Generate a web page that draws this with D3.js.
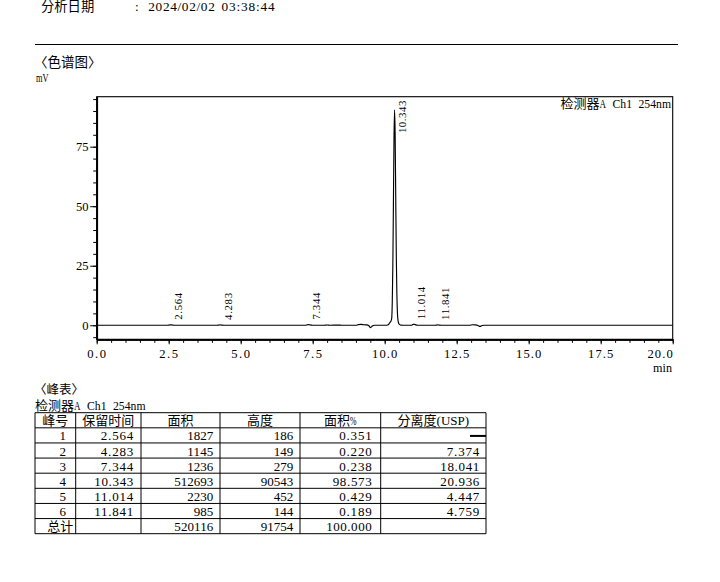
<!DOCTYPE html>
<html><head><meta charset="utf-8">
<script src="https://cdn.jsdelivr.net/npm/d3@7/dist/d3.min.js"></script>
<style>
html,body{margin:0;padding:0;background:#fff;overflow:hidden}
svg text{font-family:"Liberation Serif","Noto Sans CJK SC",serif;fill:#000}
</style>
</head><body>
<svg id="c" width="720" height="582"></svg>
<script>
// ---------------- data ----------------
const analysisDateLabel = "分析日期";
const analysisDate = ": 2024/02/02 03:38:44";
const chromTitle = "〈色谱图〉";
const yUnit = "mV";
const xUnit = "min";
const detectorLabel = "检测器A Ch1 254nm";
const tableTitle = "〈峰表〉";
const xTicks = [0, 2.5, 5, 7.5, 10, 12.5, 15, 17.5, 20];
const xTickLabels = ["0.0","2.5","5.0","7.5","10.0","12.5","15.0","17.5","20.0"];
const yTicks = [0, 25, 50, 75];
const yTickLabels = ["0","25","50","75"];

// chromatogram trace (min, mV)
const traceTime = [0.00,2.45,2.52,2.564,2.62,2.70,4.17,4.24,4.283,4.34,4.42,7.22,7.30,7.344,7.40,7.50,
  7.90,8.00,8.10,8.40,8.50,9.00,9.08,9.18,9.28,9.38,9.45,9.51,9.57,9.65,
  10.05,10.10,10.15,10.19,10.22,10.243,10.263,10.283,10.303,10.323,10.343,10.363,10.383,10.403,10.423,10.443,10.463,10.483,10.51,10.56,10.65,
  10.92,10.97,11.014,11.06,11.14,11.75,11.80,11.841,11.89,11.96,12.95,13.05,13.15,13.24,13.31,13.38,13.45,20.00];
const traceMV = [0,0,0.10,0.19,0.10,0,0,0.08,0.15,0.08,0,0,0.15,0.28,0.14,0,
  0,0.10,0,0.08,0,0,0.25,0.35,0.20,0.15,-0.20,-1.0,-0.30,0,
  0,0.10,0.60,1.30,1.80,2.90,9.80,25.5,51.5,78.6,90.5,80.0,54.0,29.0,13.0,5.0,2.0,0.90,0.35,0.05,0,
  0,0.25,0.45,0.25,0,0,0.08,0.14,0.07,0,0,0.20,0.15,-0.10,-0.50,-0.10,0,0];

// peak table
const tableHeaders = ["峰号","保留时间","面积","高度","面积%","分离度(USP)"];
const peakNo = ["1","2","3","4","5","6"];
const retTime = ["2.564","4.283","7.344","10.343","11.014","11.841"];
const peakArea = [1827, 1145, 1236, 512693, 2230, 985];
const peakHeight = [186, 149, 279, 90543, 452, 144];
const areaPct = ["0.351","0.220","0.238","98.573","0.429","0.189"];
const resolution = ["--","7.374","18.041","20.936","4.447","4.759"];
const totalLabel = "总计";
const totalArea = 520116, totalHeight = 91754, totalPct = "100.000";

// ---------------- helpers ----------------
const svg = d3.select("#c");
svg.append("rect").attr("width",720).attr("height",582).attr("fill","#fff");

function isWide(c){
  const k = c.codePointAt(0);
  return (k>=0x2E80&&k<=0x9FFF)||(k>=0xF900&&k<=0xFAFF)||(k>=0xFE30&&k<=0xFE4F)||
         (k>=0xFF00&&k<=0xFF60)||(k>=0xFFE0&&k<=0xFFE6)||(k>=0x3000&&k<=0x303F);
}
// text laid out on a SimSun-like grid: CJK = 1em, Latin = 0.5em; runs become single text elements
function gridText(parent, str, x, y, size, anchor){
  const chars = [...str];
  const adv = chars.map(c => isWide(c) ? size : size/2);
  const total = d3.sum(adv);
  let cx = anchor === "end" ? x - total : anchor === "middle" ? x - total/2 : x;
  const runs = [];
  let cur = null;
  chars.forEach((c,i) => {
    if (c === " ") { cur = null; cx += adv[i]; return; }
    const w = isWide(c);
    if (!cur || cur.wide !== w) { cur = {wide:w, x:cx, text:"", width:0}; runs.push(cur); }
    cur.text += c; cur.width += adv[i]; cx += adv[i];
  });
  const g = parent.append("g");
  runs.forEach(r => {
    const t = g.append("text").attr("x", r.x).attr("y", y).style("font-size", size + "px").text(r.text);
    const nat = t.node().getComputedTextLength();
    if (Math.abs(nat - r.width) > 0.3) {
      t.attr("textLength", r.width)
       .attr("lengthAdjust", nat > r.width ? "spacingAndGlyphs" : "spacing");
    }
  });
  return total;
}

// ---------------- header ----------------
gridText(svg, analysisDateLabel, 41, 10.8, 13.3, "start");
gridText(svg, analysisDate, 135, 10.8, 13.3, "start");
svg.append("line").attr("x1",35).attr("x2",678).attr("y1",44.5).attr("y2",44.5)
  .attr("stroke","#000").attr("stroke-width",1.2);
gridText(svg, chromTitle, 34, 66.5, 13.5, "start");
gridText(svg, yUnit, 36, 82, 12.5, "start");

// ---------------- chart ----------------
const L = 96.7, R = 672.7, T = 96.7, B = 339.3;
const x = d3.scaleLinear().domain([0,20]).range([L,R]);
const y = d3.scaleLinear().domain([-5.9,96]).range([B,T]);

svg.append("rect").attr("x",L).attr("y",T).attr("width",R-L).attr("height",B-T)
  .attr("fill","none").attr("stroke","#000").attr("stroke-width",1.1);

svg.append("clipPath").attr("id","clp").append("rect")
  .attr("x",L).attr("y",T).attr("width",R-L).attr("height",B-T);

const pts = traceTime.map((t,i) => [t, traceMV[i]]);
const line = d3.line().x(d => x(d[0])).y(d => y(d[1])).curve(d3.curveMonotoneX);
svg.append("path").datum(pts).attr("d", line).attr("fill","none")
  .attr("stroke","#000").attr("stroke-width",1.15).attr("clip-path","url(#clp)");

// axes
const xMinor = d3.range(0, 20.001, 0.5);
const yMinor = d3.range(-5, 95.001, 5);
const gxMinor = svg.append("g").attr("transform",`translate(0,${B})`)
  .call(d3.axisBottom(x).tickValues(xMinor).tickSize(3.5).tickSizeOuter(0).tickFormat(""));
const gxMajor = svg.append("g").attr("transform",`translate(0,${B})`)
  .call(d3.axisBottom(x).tickValues(xTicks).tickSize(5).tickSizeOuter(0).tickFormat(""));
const gyMinor = svg.append("g").attr("transform",`translate(${L},0)`)
  .call(d3.axisLeft(y).tickValues(yMinor).tickSize(3.5).tickSizeOuter(0).tickFormat(""));
const gyMajor = svg.append("g").attr("transform",`translate(${L},0)`)
  .call(d3.axisLeft(y).tickValues(yTicks).tickSize(6.5).tickSizeOuter(0).tickFormat(""));
[gxMinor,gxMajor,gyMinor,gyMajor].forEach(g => {
  g.selectAll(".domain").attr("stroke","#000").attr("stroke-width",1.7);
  g.selectAll(".tick line").attr("stroke","#000").attr("stroke-width",1);
});

xTicks.forEach((v,i) => {
  const last = i === xTicks.length - 1;
  gridText(svg, xTickLabels[i], last ? R : x(v), 358, 12.6, last ? "end" : "middle");
});
yTicks.forEach((v,i) => gridText(svg, yTickLabels[i], 88.5, y(v)+4.3, 12.6, "end"));
gridText(svg, xUnit, 672, 371.5, 12.6, "end");
gridText(svg, detectorLabel, 671, 107.5, 13, "end");

// peak labels (rotated)
const labSize = 10.8;
retTime.forEach((rt,i) => {
  const t = +rt;
  const apexY = y(peakHeight[i] / 1000);
  const len = [...rt].length * labSize / 2;
  const startY = Math.max(apexY - 5, T + 4 + len);
  const g = svg.append("g").attr("transform", `translate(${x(t)+11.5},${startY}) rotate(-90)`);
  gridText(g, rt, 0, 0, labSize, "start");
});

// ---------------- peak table ----------------
gridText(svg, tableTitle, 34, 394, 12.5, "start");
gridText(svg, detectorLabel, 35, 410, 13, "start");

const colEdges = [35, 75.7, 141, 220, 300, 380.7, 486];
const rowTop = 412.7, rh = 15.125, nRows = 8;
const tg = svg.append("g");
for (let i = 0; i <= nRows; i++) {
  tg.append("line").attr("x1",colEdges[0]).attr("x2",colEdges[6])
    .attr("y1",rowTop+i*rh).attr("y2",rowTop+i*rh).attr("stroke","#000").attr("stroke-width",1);
}
colEdges.forEach(cx => tg.append("line").attr("x1",cx).attr("x2",cx)
  .attr("y1",rowTop).attr("y2",rowTop+nRows*rh).attr("stroke","#000").attr("stroke-width",1));

const fs = 13;
tableHeaders.forEach((h,j) => gridText(tg, h, (colEdges[j]+colEdges[j+1])/2, rowTop+12, fs, "middle"));
const rightPos = [66, 133.3, 213.3, 293.3, 371.7, 479.3];
peakNo.forEach((n,i) => {
  const by = rowTop + (i+1)*rh + 12.6;
  gridText(tg, n, rightPos[0], by, fs, "end");
  gridText(tg, retTime[i], rightPos[1], by, fs, "end");
  gridText(tg, String(peakArea[i]), rightPos[2], by, fs, "end");
  gridText(tg, String(peakHeight[i]), rightPos[3], by, fs, "end");
  gridText(tg, areaPct[i], rightPos[4], by, fs, "end");
  if (resolution[i] === "--") {
    tg.append("line").attr("x1",470).attr("x2",486).attr("y1",by-4.5).attr("y2",by-4.5)
      .attr("stroke","#000").attr("stroke-width",2);
  } else {
    gridText(tg, resolution[i], rightPos[5], by, fs, "end");
  }
});
const tby = rowTop + 7*rh + 12.6;
gridText(tg, totalLabel, 73.3, tby, fs, "end");
gridText(tg, String(totalArea), rightPos[2], tby, fs, "end");
gridText(tg, String(totalHeight), rightPos[3], tby, fs, "end");
gridText(tg, totalPct, rightPos[4], tby, fs, "end");
</script>
</body></html>
